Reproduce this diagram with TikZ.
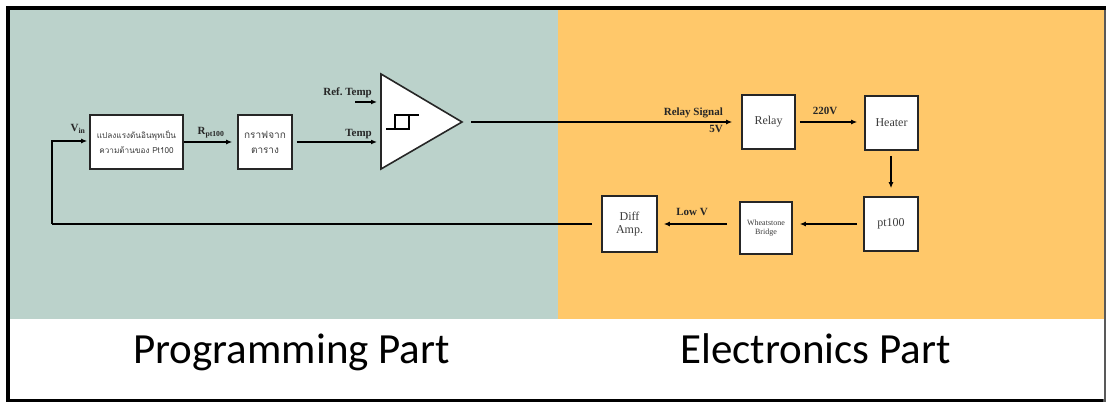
\documentclass[tikz,border=0pt]{standalone}
\usepackage{fontspec}
\setmainfont{Liberation Serif}
\newfontfamily\thaifont[Script=Thai]{Loma}
\newfontfamily\titlefont{Carlito}
\usetikzlibrary{arrows.meta}
\frenchspacing
\definecolor{progbg}{RGB}{187,210,203}
\definecolor{elecbg}{RGB}{255,200,106}
\definecolor{boxtext}{RGB}{60,60,60}
\tikzset{
  blockbox/.style={draw=black!85, line width=1.6pt, fill=white, inner sep=0pt,
    align=center, text=boxtext, font=\fontsize{12}{14}\selectfont},
  sig/.style={line width=1.4pt, -{Latex[length=6pt,width=5pt]}},
  wire/.style={line width=1.4pt},
  lbl/.style={font=\bfseries\fontsize{11}{12}\selectfont, inner sep=0pt, text=black!85},
  parttitle/.style={font=\titlefont\fontsize{43}{50}\selectfont, inner sep=0pt}
}
\begin{document}
\begin{tikzpicture}[x=1pt,y=-1pt]
\useasboundingbox (0,0) rectangle (1106,403);
% frame and the two coloured regions
\fill[black] (6,6) rectangle (1106,402);
\fill[black!65] (1103,10) rectangle (1106,402);
\fill[white] (10,10) rectangle (1103.5,398.5);
\fill[progbg] (10,10) rectangle (557.5,319);
\fill[elecbg] (557.5,10) rectangle (1103.5,319);

% programming blocks
\node[blockbox, minimum width=93pt, minimum height=54pt] (conv) at (136.5,142)
  {\thaifont\fontsize{8.2}{12}\selectfont แปลงแรงดันอินพุทเป็น\\[1pt]\thaifont\fontsize{8.2}{12}\selectfont ความต้านของ Pt100};
\node[blockbox, minimum width=54pt, minimum height=54pt] (lut) at (265,142)
  {\thaifont\fontsize{10}{13}\selectfont กราฟจาก\\[1pt]\thaifont\fontsize{10}{13}\selectfont ตาราง};

% comparator with hysteresis
\coordinate (cmpTop) at (381,74);
\coordinate (cmpBot) at (381,169);
\coordinate (cmpTip) at (462,122);
\coordinate (cmpRef) at (381,102);
\coordinate (cmpIn) at (381,142);
\coordinate (cmpOut) at (471,122);
\filldraw[fill=white, draw=black!85, line width=1.6pt, line join=miter] (cmpTop) -- (cmpTip) -- (cmpBot) -- cycle;
\draw[line width=1.2pt] (386,129) -- (409,129) -- (409,115);
\draw[line width=1.2pt] (395,129) -- (395,115) -- (419,115);

% electronics blocks
\node[blockbox, minimum width=53pt, minimum height=54pt] (relay) at (768.5,122) {Relay};
\node[blockbox, minimum width=53pt, minimum height=54pt] (heater) at (891.5,123) {Heater};
\node[blockbox, minimum width=54pt, minimum height=54pt] (pt) at (891,224) {pt100};
\node[blockbox, minimum width=52pt, minimum height=52pt, font=\fontsize{8}{9.5}\selectfont] (wheat) at (766,228) {Wheatstone\\Bridge};
\node[blockbox, minimum width=55pt, minimum height=56pt, font=\fontsize{12}{13}\selectfont] (diff) at (629.5,224) {Diff\\Amp.};

% signal path
\coordinate (fbL) at (52,224);
\coordinate (fbT) at (52,141);
\draw[wire, shorten <=9pt] (diff.west) -- (fbL);
\draw[sig, shorten >=2pt] (fbL) -- (fbT) -- (conv.west |- fbT);
\draw[sig, shorten >=5pt] (conv.east) -- (lut.west);
\draw[sig, shorten <=4pt, shorten >=4pt] (lut.east) -- (cmpIn);
\coordinate (refStart) at (355,102);
\draw[sig, shorten >=4pt] (refStart) -- (cmpRef);
\draw[sig, shorten >=9pt] (cmpOut) -- (relay.west);
\draw[sig, shorten <=4pt, shorten >=7pt] (relay.east) -- (heater.west |- relay.east);
\draw[sig, shorten <=5pt, shorten >=8pt] (heater.south -| pt.north) -- (pt.north);
\draw[sig, shorten <=6pt, shorten >=7pt] (pt.west) -- (wheat.east |- pt.west);
\draw[sig, shorten <=12pt, shorten >=6pt] (wheat.west |- diff.east) -- (diff.east);

% connector labels
\node[lbl, anchor=base] (vin) at (78,132) {V\textsubscript{in}};
\node[lbl, anchor=base] (rpt) at (211,135) {R\textsubscript{pt100}};
\node[lbl, anchor=base east] (refl) at (372,96) {Ref. Temp};
\node[lbl, anchor=base east] (templ) at (372,137) {Temp};
\node[lbl, anchor=base east] (rsig) at (723,116) {Relay Signal};
\node[lbl, anchor=base east] (fivev) at (723,133) {5V};
\node[lbl, anchor=base] (acv) at (825,115) {220V};
\node[lbl, anchor=base] (lowv) at (692,216) {Low V};

% section titles
\node[parttitle, anchor=base] (progtitle) at (291.5,363) {Programming Part};
\node[parttitle, anchor=base] (electitle) at (815.5,363) {Electronics Part};
\end{tikzpicture}
\end{document}
